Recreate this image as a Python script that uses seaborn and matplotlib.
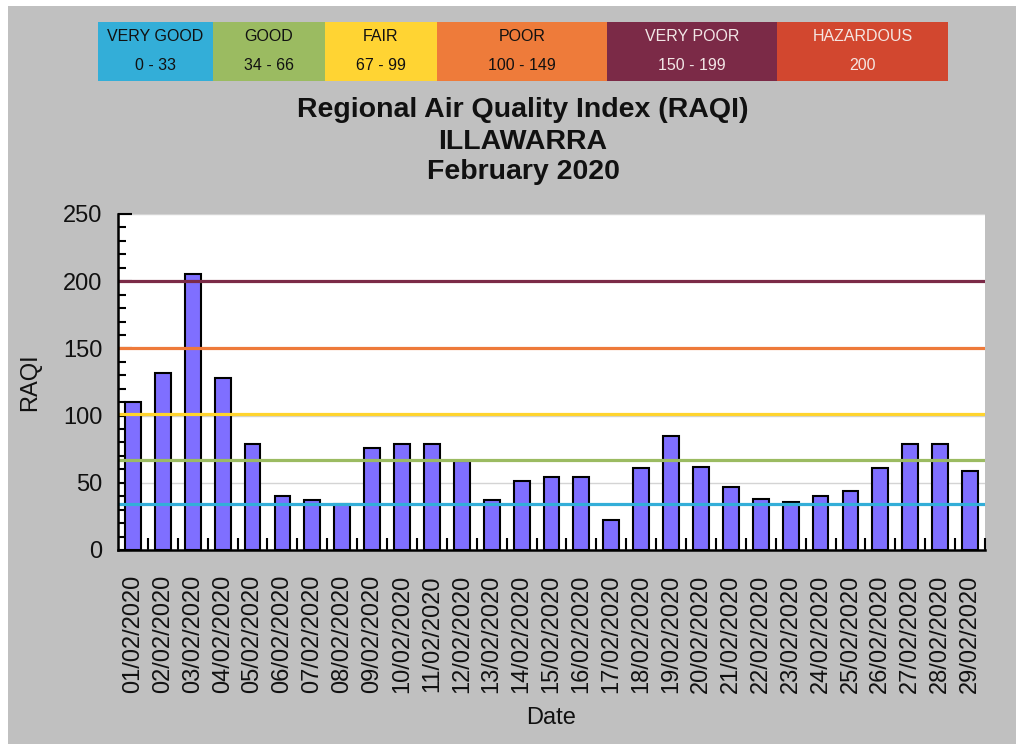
import numpy as np
import pandas as pd
import matplotlib
matplotlib.use("Agg")
import matplotlib.pyplot as plt
from matplotlib.patches import Rectangle
from matplotlib.ticker import MultipleLocator, FixedLocator
import seaborn as sns

# ---------------- data ----------------
dates = [f"{d:02d}/02/2020" for d in range(1, 30)]
raqi = [110, 132, 205, 128, 79, 40, 37, 34, 76, 79, 79, 66, 37, 51, 54, 54,
        22, 61, 85, 62, 47, 38, 36, 40, 44, 61, 79, 79, 59]

band_names = ["VERY GOOD", "GOOD", "FAIR", "POOR", "VERY POOR", "HAZARDOUS"]
band_ranges = ["0 - 33", "34 - 66", "67 - 99", "100 - 149", "150 - 199", "200"]
band_colors = ["#33AED8", "#9BBB61", "#FFD433", "#EE7B3A", "#7B2A47", "#D2472F"]
band_text_colors = ["#111111", "#111111", "#111111", "#111111", "#F2E6E6", "#F5E6E2"]

threshold_values = [200, 150, 101, 67, 34]
threshold_colors = ["#7B2A47", "#EE7A3A", "#FFD42E", "#9BBB61", "#33AED8"]

title_lines = ["Regional Air Quality Index (RAQI)", "ILLAWARRA", "February 2020"]

# ---------------- style ----------------
sns.set_theme(style="white")
plt.rcParams["font.family"] = ["Liberation Sans", "DejaVu Sans"]

W, H = 1016, 744
fig = plt.figure(figsize=(W / 100, H / 100), dpi=100, facecolor="white")
# gray panel (thin white margin at top-left)
fig.patches.append(Rectangle((8 / W, 0), 1 - 8 / W, 1 - 6 / H,
                             transform=fig.transFigure, facecolor="#C0C0C0",
                             edgecolor="none", zorder=-10))

def fx(px):
    return px / W

def fy(py):
    return 1 - py / H

# ---------------- band legend ----------------
edges = [98, 213, 325, 437, 607, 777, 948]
lax = fig.add_axes([fx(edges[0]), fy(81), fx(edges[-1]) - fx(edges[0]), fy(22) - fy(81)])
lax.set_xlim(edges[0], edges[-1])
lax.set_ylim(0, 1)
lax.axis("off")
for i, name in enumerate(band_names):
    lax.bar(edges[i], 1, width=edges[i + 1] - edges[i], align="edge",
            color=band_colors[i], edgecolor="none")
    cx = (edges[i] + edges[i + 1]) / 2
    lax.text(cx, 0.75, name, ha="center", va="center", fontsize=11.5,
             color=band_text_colors[i])
    lax.text(cx, 0.27, band_ranges[i], ha="center", va="center", fontsize=11.5,
             color=band_text_colors[i])

# ---------------- title ----------------
for line, py in zip(title_lines, [110, 142, 172]):
    fig.text(fx(523), fy(py), line, ha="center", va="center",
             fontsize=20.5, fontweight="bold", color="#111111")

# ---------------- main chart ----------------
ax = fig.add_axes([fx(118), fy(550), fx(985) - fx(118), fy(214) - fy(550)])
ax.set_facecolor("white")
df = pd.DataFrame({"Date": dates, "RAQI": raqi})
sns.barplot(data=df, x="Date", y="RAQI", color="#7F6FFF", saturation=1,
            edgecolor="black", linewidth=1.5, width=0.53, ax=ax, zorder=2)

ax.set_ylim(0, 250)
ax.set_xlim(-0.5, len(dates) - 0.5)
ax.yaxis.set_major_locator(MultipleLocator(50))
ax.yaxis.set_minor_locator(MultipleLocator(10))
ax.grid(axis="y", which="major", color="#D4D4D4", linewidth=1, zorder=0)
ax.set_axisbelow(True)

for v, c in zip(threshold_values, threshold_colors):
    ax.axhline(v, color=c, linewidth=2.3, zorder=3)

for s in ["top", "right"]:
    ax.spines[s].set_visible(False)
for s in ["left", "bottom"]:
    ax.spines[s].set_color("black")
    ax.spines[s].set_linewidth(1.8)
    ax.spines[s].set_zorder(5)

ax.tick_params(axis="y", which="major", direction="in", length=10, width=1.5,
               color="black", labelsize=17, pad=11, labelcolor="#111111",
               left=True)
ax.tick_params(axis="y", which="minor", direction="in", length=6, width=1.5,
               color="black", left=True)

ax.set_xticks(range(len(dates)))
ax.set_xticklabels(dates, rotation=90, ha="center", va="top")
ax.xaxis.set_minor_locator(FixedLocator(np.arange(0.5, len(dates), 1.0)))
ax.tick_params(axis="x", which="major", length=0, labelsize=17, pad=18,
               labelcolor="#111111", bottom=True)
ax.tick_params(axis="x", which="minor", direction="in", length=9, width=1.5,
               color="black", bottom=True)

ax.set_xlabel("Date", fontsize=17, color="#111111", labelpad=8)
ax.set_ylabel("RAQI", fontsize=17, color="#111111")
ax.yaxis.set_label_coords(-(118 - 30) / (985 - 118), 0.5)
ax.xaxis.set_label_coords(0.5, -(718 - 550) / (550 - 214))
ax.xaxis.label.set_va("center")
ax.yaxis.label.set_va("center")

fig.savefig("out.png", dpi=100, facecolor=fig.get_facecolor())
